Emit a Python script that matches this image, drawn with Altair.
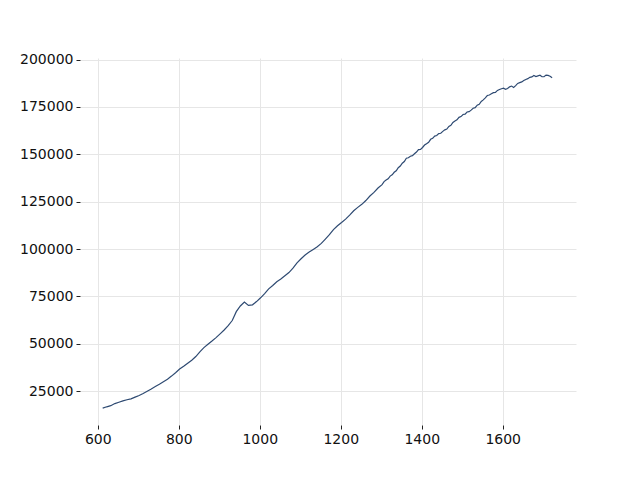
import altair as alt
import pandas as pd

xs = list(range(612, 1302, 10)) + list(range(1302, 1723, 5))
ys = [
    16100, 16800, 17400, 18500, 19200, 19900, 20500, 21000, 21900, 22800,
    23800, 25000, 26200, 27500, 28700, 30000, 31300, 33000, 34800, 36700,
    38200, 39800, 41400, 43300, 45800, 48000, 49800, 51500, 53300, 55300,
    57300, 59600, 62300, 67000, 70000, 72100, 70300, 70600, 72300, 74300,
    76500, 79000, 80800, 82800, 84200, 85900, 87600, 89900, 92700, 94900,
    96900, 98400, 99800, 101200, 103000, 105300, 107600, 110300, 112300, 114000,
    115800, 117900, 120200, 122000, 123600, 125600, 128000, 129900, 132200,
    # step 5 from 1302
    134000, 135600, 136400, 137100, 138500, 139200, 140500, 141300, 142900, 143800,
    145300, 146200, 147900, 148200, 149000, 149300, 150300, 151200, 152500, 152600,
    153600, 154900, 155600, 156300, 157900, 158400, 159600, 159900, 160900, 161100,
    162100, 162900, 163300, 164700, 165300, 166800, 167600, 168200, 169500, 169900,
    171000, 171200, 172300, 172500, 173300, 174300, 174600, 175900, 176400, 177900,
    178700, 179800, 181000, 181300, 181900, 182500, 182600, 183700, 184200, 184600,
    184900, 184300, 184700, 185600, 186000, 185300, 186200, 187400, 187800, 188200,
    188900, 189500, 189900, 190600, 190800, 191600, 191000, 191400, 191700, 190900,
    190900, 191800, 191600, 191200, 190400,
]

x_ticks = [600, 800, 1000, 1200, 1400, 1600]
y_ticks = [25000, 50000, 75000, 100000, 125000, 150000, 175000, 200000]

n = min(len(xs), len(ys))
df = pd.DataFrame({"x": xs[:n], "y": ys[:n]})

chart = alt.Chart(df).mark_line(color="#2e4a72", strokeWidth=1.2).encode(
    x=alt.X("x:Q", scale=alt.Scale(domain=[556, 1781], nice=False, zero=False),
            axis=alt.Axis(values=x_ticks, title=None, format="d")),
    y=alt.Y("y:Q", scale=alt.Scale(domain=[7200, 200800], nice=False, zero=False),
            axis=alt.Axis(values=y_ticks, title=None, format="d")),
).properties(
    width=496, height=367,
    autosize=alt.AutoSizeParams(type="none"),
    padding={"left": 72, "top": 50, "right": 56, "bottom": 47},
).configure_view(stroke=None).configure_axis(
    domain=False,
    grid=True,
    gridColor="#e6e6e6",
    gridWidth=1,
    tickColor="#222222",
    tickSize=4,
    tickWidth=1,
    labelFont="DejaVu Sans",
    labelFontSize=14,
    labelColor="#111111",
    labelPadding=3,
)

chart.save("out.html", embed_options={"renderer": "svg", "actions": False})
